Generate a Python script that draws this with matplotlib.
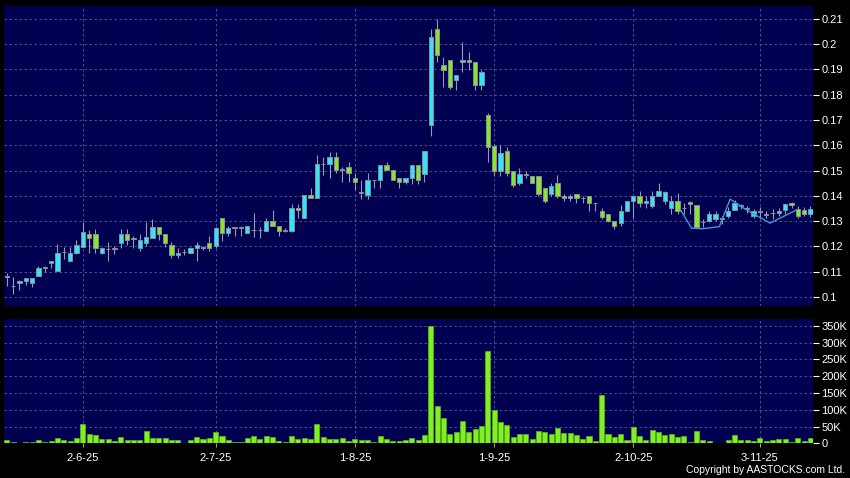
import numpy as np
import matplotlib
matplotlib.use('Agg')
import matplotlib.pyplot as plt
from matplotlib.ticker import FuncFormatter

plt.rcParams['font.family'] = ['Liberation Sans', 'DejaVu Sans']

# daily OHLC, one entry per trading day (mid May -> mid Nov 2025)
opens = [0.1083, 0.1043, 0.1055, 0.1064, 0.1055, 0.1083, 0.1115, 0.1135, 0.1103, 0.1176,
         0.1143, 0.1175, 0.1197, 0.1247, 0.1247, 0.1173, 0.1188, 0.1188, 0.1215, 0.1247,
         0.1230, 0.1193, 0.1213, 0.1235, 0.1275, 0.1247, 0.1207, 0.1167, 0.1177, 0.1175,
         0.1195, 0.1193, 0.1215, 0.1203, 0.1313, 0.1254, 0.1274, 0.1274, 0.1254, 0.1263,
         0.1263, 0.1262, 0.1301, 0.1282, 0.1262, 0.1262, 0.1353, 0.1313, 0.1403, 0.1392,
         0.1524, 0.1524, 0.1554, 0.1503, 0.1513, 0.1471, 0.1412, 0.1403, 0.1462, 0.1462,
         0.1521, 0.1503, 0.1471, 0.1453, 0.1471, 0.1521, 0.1488, 0.1682, 0.2061, 0.1918,
         0.1938, 0.1859, 0.1930, 0.1938, 0.1930, 0.1839, 0.1721, 0.1597, 0.1500, 0.1578,
         0.1499, 0.1449, 0.1481, 0.1479, 0.1479, 0.1429, 0.1409, 0.1449, 0.1400, 0.1390,
         0.1409, 0.1390, 0.1400, 0.1370, 0.1340, 0.1330, 0.1299, 0.1292, 0.1340, 0.1380,
         0.1400, 0.1370, 0.1360, 0.1400, 0.1381, 0.1350, 0.1381, 0.1350, 0.1374, 0.1364,
         0.1295, 0.1301, 0.1308, 0.1310, 0.1321, 0.1344, 0.1361, 0.1346, 0.1321, 0.1337,
         0.1324, 0.1332, 0.1334, 0.1344, 0.1370, 0.1348, 0.1344, 0.1330]
highs = [0.1093, 0.1080, 0.1066, 0.1075, 0.1075, 0.1124, 0.1124, 0.1144, 0.1208, 0.1197,
         0.1197, 0.1227, 0.1295, 0.1264, 0.1267, 0.1197, 0.1217, 0.1203, 0.1267, 0.1267,
         0.1243, 0.1247, 0.1295, 0.1308, 0.1277, 0.1247, 0.1217, 0.1193, 0.1190, 0.1197,
         0.1217, 0.1203, 0.1243, 0.1275, 0.1313, 0.1282, 0.1274, 0.1282, 0.1282, 0.1334,
         0.1276, 0.1313, 0.1345, 0.1282, 0.1274, 0.1366, 0.1366, 0.1403, 0.1432, 0.1561,
         0.1554, 0.1574, 0.1574, 0.1513, 0.1534, 0.1492, 0.1462, 0.1492, 0.1462, 0.1521,
         0.1534, 0.1503, 0.1471, 0.1471, 0.1521, 0.1521, 0.1578, 0.2062, 0.2100, 0.1950,
         0.1938, 0.1879, 0.2010, 0.1970, 0.1930, 0.1899, 0.1729, 0.1605, 0.1600, 0.1592,
         0.1499, 0.1509, 0.1499, 0.1479, 0.1479, 0.1429, 0.1449, 0.1482, 0.1409, 0.1409,
         0.1409, 0.1400, 0.1400, 0.1370, 0.1350, 0.1330, 0.1299, 0.1362, 0.1380, 0.1400,
         0.1420, 0.1400, 0.1420, 0.1450, 0.1420, 0.1400, 0.1410, 0.1370, 0.1380, 0.1364,
         0.1308, 0.1341, 0.1341, 0.1320, 0.1354, 0.1384, 0.1368, 0.1361, 0.1348, 0.1354,
         0.1340, 0.1348, 0.1350, 0.1368, 0.1374, 0.1361, 0.1354, 0.1361]
lows = [0.1044, 0.1013, 0.1029, 0.1047, 0.1041, 0.1083, 0.1100, 0.1115, 0.1103, 0.1150,
        0.1143, 0.1168, 0.1197, 0.1173, 0.1173, 0.1168, 0.1141, 0.1170, 0.1195, 0.1205,
        0.1195, 0.1183, 0.1203, 0.1235, 0.1225, 0.1197, 0.1155, 0.1155, 0.1165, 0.1175,
        0.1141, 0.1185, 0.1183, 0.1195, 0.1221, 0.1242, 0.1242, 0.1242, 0.1254, 0.1236,
        0.1232, 0.1262, 0.1282, 0.1242, 0.1255, 0.1255, 0.1313, 0.1313, 0.1392, 0.1392,
        0.1482, 0.1471, 0.1492, 0.1453, 0.1453, 0.1423, 0.1389, 0.1389, 0.1432, 0.1432,
        0.1503, 0.1462, 0.1432, 0.1445, 0.1445, 0.1445, 0.1453, 0.1637, 0.1930, 0.1832,
        0.1821, 0.1820, 0.1890, 0.1899, 0.1820, 0.1820, 0.1532, 0.1479, 0.1479, 0.1479,
        0.1434, 0.1442, 0.1470, 0.1450, 0.1400, 0.1370, 0.1400, 0.1390, 0.1380, 0.1380,
        0.1370, 0.1370, 0.1340, 0.1340, 0.1310, 0.1295, 0.1270, 0.1279, 0.1340, 0.1312,
        0.1355, 0.1350, 0.1350, 0.1400, 0.1367, 0.1330, 0.1330, 0.1330, 0.1330, 0.1275,
        0.1275, 0.1295, 0.1301, 0.1290, 0.1312, 0.1344, 0.1348, 0.1334, 0.1312, 0.1314,
        0.1314, 0.1308, 0.1320, 0.1330, 0.1350, 0.1314, 0.1321, 0.1318]
closes = [0.1078, 0.1043, 0.1063, 0.1073, 0.1075, 0.1113, 0.1115, 0.1144, 0.1173, 0.1176,
          0.1175, 0.1207, 0.1255, 0.1235, 0.1193, 0.1193, 0.1188, 0.1195, 0.1248, 0.1227,
          0.1230, 0.1227, 0.1236, 0.1275, 0.1247, 0.1215, 0.1167, 0.1175, 0.1177, 0.1195,
          0.1205, 0.1197, 0.1195, 0.1272, 0.1254, 0.1274, 0.1274, 0.1274, 0.1282, 0.1263,
          0.1263, 0.1301, 0.1282, 0.1262, 0.1262, 0.1353, 0.1345, 0.1403, 0.1392, 0.1524,
          0.1524, 0.1554, 0.1503, 0.1508, 0.1492, 0.1453, 0.1412, 0.1462, 0.1462, 0.1521,
          0.1503, 0.1462, 0.1453, 0.1471, 0.1521, 0.1462, 0.1578, 0.2029, 0.1958, 0.1899,
          0.1832, 0.1879, 0.1938, 0.1930, 0.1839, 0.1891, 0.1592, 0.1500, 0.1571, 0.1489,
          0.1442, 0.1488, 0.1488, 0.1450, 0.1409, 0.1380, 0.1439, 0.1400, 0.1390, 0.1400,
          0.1390, 0.1390, 0.1370, 0.1370, 0.1318, 0.1300, 0.1279, 0.1340, 0.1380, 0.1400,
          0.1370, 0.1380, 0.1400, 0.1419, 0.1414, 0.1381, 0.1341, 0.1350, 0.1366, 0.1275,
          0.1295, 0.1328, 0.1330, 0.1310, 0.1341, 0.1370, 0.1361, 0.1350, 0.1341, 0.1337,
          0.1330, 0.1332, 0.1341, 0.1368, 0.1365, 0.1321, 0.1330, 0.1348]

# daily volume in thousands of shares
volumes_k = [9, 3, 1, 5, 4, 10, 4, 7, 15, 10, 7, 15, 57, 28, 24, 13, 13, 7, 19, 10,
             9, 10, 37, 16, 17, 17, 10, 10, 2, 9, 19, 14, 16, 33, 23, 11, 5, 4, 16, 22,
             14, 22, 19, 7, 4, 23, 14, 16, 14, 57, 20, 14, 14, 15, 8, 13, 11, 10, 4, 23,
             13, 6, 6, 10, 15, 11, 24, 350, 110, 75, 28, 33, 68, 33, 44, 53, 275, 100, 64, 54,
             20, 29, 27, 13, 37, 34, 27, 45, 31, 31, 25, 14, 22, 6, 144, 27, 19, 27, 10, 48,
             23, 11, 40, 34, 26, 27, 18, 22, 4, 37, 10, 7, 2, 2, 10, 25, 9, 11, 8, 16,
             7, 10, 13, 12, 4, 16, 8, 15]

# month ticks: bar index and label
tick_idx = [12, 33, 55, 77, 99, 119]
tick_labels = ['2-6-25', '2-7-25', '1-8-25', '1-9-25', '2-10-25', '3-11-25']

# the thin blue line drawn over the last few weeks (bar index, price)
line_idx = [106.4, 108.2, 110.0, 112.6, 114.3, 116.9, 120.6, 124.8]
line_price = [0.1347, 0.1272, 0.1270, 0.1278, 0.1387, 0.1344, 0.1292, 0.1344]

price_ticks = [0.10, 0.11, 0.12, 0.13, 0.14, 0.15, 0.16, 0.17, 0.18, 0.19, 0.20, 0.21]
volume_ticks_k = [0, 50, 100, 150, 200, 250, 300, 350]

#=====================================

NAVY = '#000050'
GRID = '#5a5a92'
UP = '#2ee6f6'
DOWN = '#86e62a'
VOL = '#80f020'


def style_axes(ax):
    ax.set_facecolor(NAVY)
    for s in ax.spines.values():
        s.set_visible(False)
    ax.yaxis.tick_right()
    ax.tick_params(axis='y', colors='white', length=4, width=0.8, pad=2, labelsize=8)
    ax.grid(True, color=GRID, linestyle=(0, (3, 3)), linewidth=0.6)
    ax.set_axisbelow(True)
    ax.set_xticks(tick_idx)
    ax.set_xlim(-0.45, 127.4)


def draw_candles(ax):
    x = np.arange(len(opens))
    o = np.array(opens)
    c = np.array(closes)
    colors = np.where(c > o, UP, np.where(c < o, DOWN, '#a8a8a8'))
    bottom = np.minimum(o, c)
    height = np.maximum(np.abs(c - o), 0.00015)
    ax.vlines(x, lows, highs, color='#9a9aa8', linewidth=0.8, zorder=2)
    ax.bar(x, height, bottom=bottom, width=0.68, color=colors,
           edgecolor='#8c8c9c', linewidth=0.7, zorder=3)


def main():
    fig = plt.figure(figsize=(8.5, 4.78), dpi=100, facecolor='black')

    # price panel
    ax = fig.add_axes([0.0047, 0.3598, 0.9518, 0.6276])
    style_axes(ax)
    draw_candles(ax)
    ax.plot(line_idx, line_price, color='#3a9ad9', linewidth=1.0, zorder=4)
    ax.set_ylim(0.0964, 0.2151)
    ax.set_yticks(price_ticks)
    ax.yaxis.set_major_formatter(FuncFormatter(lambda v, p: '%g' % round(v, 2)))
    ax.tick_params(axis='x', length=0, labelbottom=False)

    # volume panel
    axv = fig.add_axes([0.0047, 0.0722, 0.9518, 0.2605])
    style_axes(axv)
    vol = np.array(volumes_k) * 1000
    axv.bar(np.arange(len(vol)), vol, width=0.8, color=VOL,
            edgecolor='#5cb818', linewidth=0.5, zorder=3)
    axv.set_ylim(0, 370000)
    axv.set_yticks([v * 1000 for v in volume_ticks_k])
    axv.yaxis.set_major_formatter(FuncFormatter(lambda v, p: '0' if v == 0 else '%dK' % (v / 1000)))
    axv.set_xticklabels(tick_labels)
    axv.tick_params(axis='x', colors='#a0a0a0', labelcolor='white', length=3, width=0.8,
                    pad=4, labelsize=8)

    fig.text(0.994, 0.006, 'Copyright by AASTOCKS.com Ltd.', ha='right', va='bottom',
             color='white', fontsize=7.5)

    fig.savefig('out.png', dpi=100, facecolor='black')

#=====================================

if __name__ == "__main__":
    main()
